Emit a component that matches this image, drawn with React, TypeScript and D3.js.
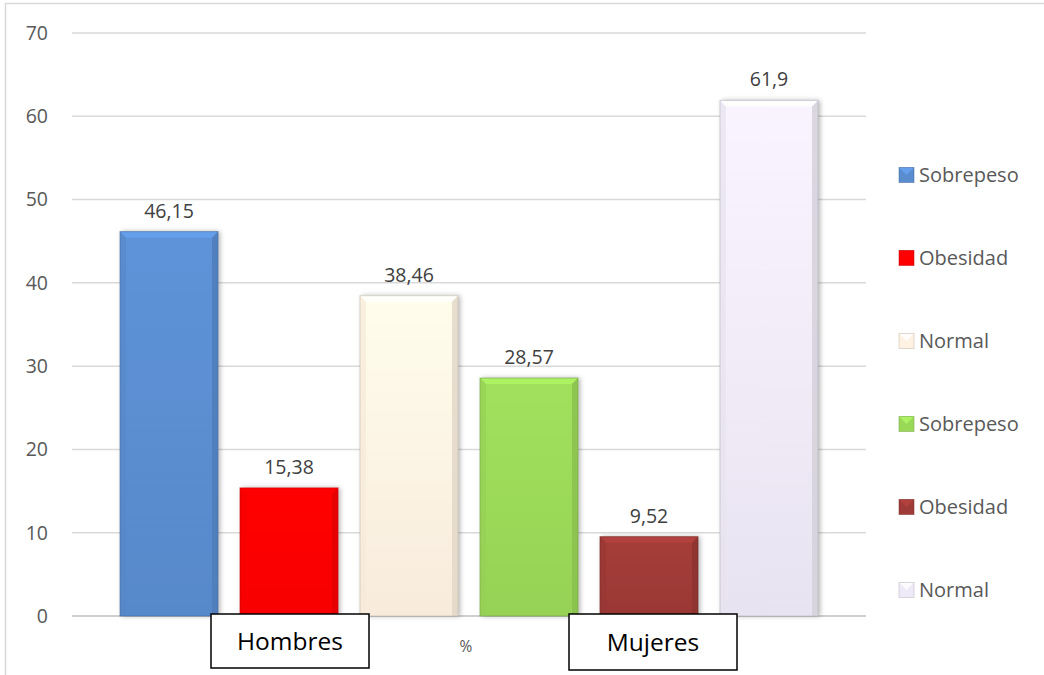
import React from "react";
import * as d3 from "d3";

const categories = ["Sobrepeso", "Obesidad", "Normal", "Sobrepeso", "Obesidad", "Normal"];
const values = [46.15, 15.38, 38.46, 28.57, 9.52, 61.9];
const valueLabels = ["46,15", "15,38", "38,46", "28,57", "9,52", "61,9"];
const colors = ["#5A8DD0", "#FF0000", "#FFF2E2", "#9AD858", "#9E3A37", "#EFEAF7"];
const yTicks = [0, 10, 20, 30, 40, 50, 60, 70];
const axisTitle = "%";
const groupLabels = ["Hombres", "Mujeres"];

const W = 1044;
const H = 675;
const plot = { left: 72, right: 866, top: 33, bottom: 616 };
const FONT = "'Open Sans', 'Noto Sans', sans-serif";

export default function App() {
  const x = d3
    .scaleBand<number>()
    .domain(d3.range(values.length))
    .range([plot.left, plot.right])
    .paddingInner(0.183)
    .paddingOuter(0.4);
  const y = d3.scaleLinear().domain([0, 70]).range([plot.bottom, plot.top]);
  const bw = x.bandwidth();

  const legendY = d3
    .scalePoint<number>()
    .domain(d3.range(categories.length))
    .range([175, 590]);

  const shade = (c: string, k: number) => {
    const col = d3.color(c)!;
    return k > 0 ? col.brighter(k).formatHex() : col.darker(-k).formatHex();
  };

  const boxes = [
    { label: groupLabels[0], x: 211, w: 158, y: 614, h: 54 },
    { label: groupLabels[1], x: 569, w: 168, y: 614, h: 56 },
  ];

  return (
    <svg width={W} height={H} style={{ position: "absolute", left: 0, top: 0, background: "#fff" }}>
      <defs>
        <filter id="shadow" x="-20%" y="-20%" width="140%" height="140%">
          <feDropShadow dx="2" dy="0" stdDeviation="2.5" floodColor="#000" floodOpacity="0.3" />
        </filter>
        {colors.map((c, i) => (
          <linearGradient key={i} id={`g${i}`} x1="0" y1="0" x2="0" y2="1">
            <stop offset="0" stopColor={shade(c, 0.12)} />
            <stop offset="1" stopColor={shade(c, -0.08)} />
          </linearGradient>
        ))}
      </defs>
      {/* chart border */}
      <rect x={5.5} y={3.5} width={W + 10} height={H + 10} fill="none" stroke="#d9d9d9" strokeWidth={1.5} />

      {/* gridlines */}
      {yTicks.map((t) => (
        <g key={t}>
          <line
            x1={plot.left}
            x2={plot.right}
            y1={y(t)}
            y2={y(t)}
            stroke={t === 0 ? "#bfbfbf" : "#d9d9d9"}
            strokeWidth={1.5}
          />
          <text
            x={48}
            y={y(t)}
            dy="0.35em"
            textAnchor="end"
            fontFamily={FONT}
            fontSize={19.5}
            fill="#595959"
          >
            {t}
          </text>
        </g>
      ))}

      {/* bars */}
      {values.map((v, i) => {
        const x0 = x(i)!;
        const y0 = y(v);
        const h = plot.bottom - y0;
        const b = 6;
        const c = colors[i];
        return (
          <g key={i}>
            <rect x={x0} y={y0} width={bw} height={h} fill={`url(#g${i})`} filter="url(#shadow)" />
            <polygon
              points={`${x0},${y0} ${x0 + bw},${y0} ${x0 + bw - b},${y0 + b} ${x0 + b},${y0 + b}`}
              fill={shade(c, 0.35)}
              opacity={0.85}
            />
            <polygon
              points={`${x0},${y0} ${x0 + b},${y0 + b} ${x0 + b},${plot.bottom} ${x0},${plot.bottom}`}
              fill={shade(c, -0.1)}
              opacity={0.7}
            />
            <polygon
              points={`${x0 + bw},${y0} ${x0 + bw - b},${y0 + b} ${x0 + bw - b},${plot.bottom} ${x0 + bw},${plot.bottom}`}
              fill={shade(c, -0.35)}
              opacity={0.8}
            />
            <rect x={x0} y={y0} width={bw} height={h} fill="none" stroke={shade(c, -0.8)} strokeWidth={1} strokeOpacity={0.6} />
            <text
              x={x0 + bw / 2}
              y={y0 - 14}
              textAnchor="middle"
              fontFamily={FONT}
              fontSize={19.5}
              fill="#404040"
            >
              {valueLabels[i]}
            </text>
          </g>
        );
      })}

      {/* axis title */}
      <text x={466} y={652} textAnchor="middle" fontFamily={FONT} fontSize={15.5} fill="#595959">
        {axisTitle}
      </text>

      {/* group label boxes */}
      {boxes.map((bx) => (
        <g key={bx.label}>
          <rect x={bx.x} y={bx.y} width={bx.w} height={bx.h} fill="#fff" stroke="#000" strokeWidth={1.5} />
          <text
            x={bx.x + bx.w / 2}
            y={bx.y + bx.h / 2}
            dy="0.36em"
            textAnchor="middle"
            fontFamily={FONT}
            fontSize={24.5}
            fill="#000"
          >
            {bx.label}
          </text>
        </g>
      ))}

      {/* legend */}
      {categories.map((c, i) => {
        const cy = legendY(i)!;
        const s = 15;
        const lx = 899;
        return (
          <g key={i}>
            <rect x={lx} y={cy - s / 2} width={s} height={s} fill={colors[i]} />
            <polygon
              points={`${lx},${cy - s / 2} ${lx + s},${cy - s / 2} ${lx + s / 2},${cy}`}
              fill={shade(colors[i], 0.4)}
              opacity={0.8}
            />
            <rect x={lx} y={cy - s / 2} width={s} height={s} fill="none" stroke={shade(colors[i], -0.8)} strokeOpacity={0.5} />
            <text x={lx + 20} y={cy} dy="0.35em" fontFamily={FONT} fontSize={20} fill="#595959">
              {c}
            </text>
          </g>
        );
      })}
    </svg>
  );
}
